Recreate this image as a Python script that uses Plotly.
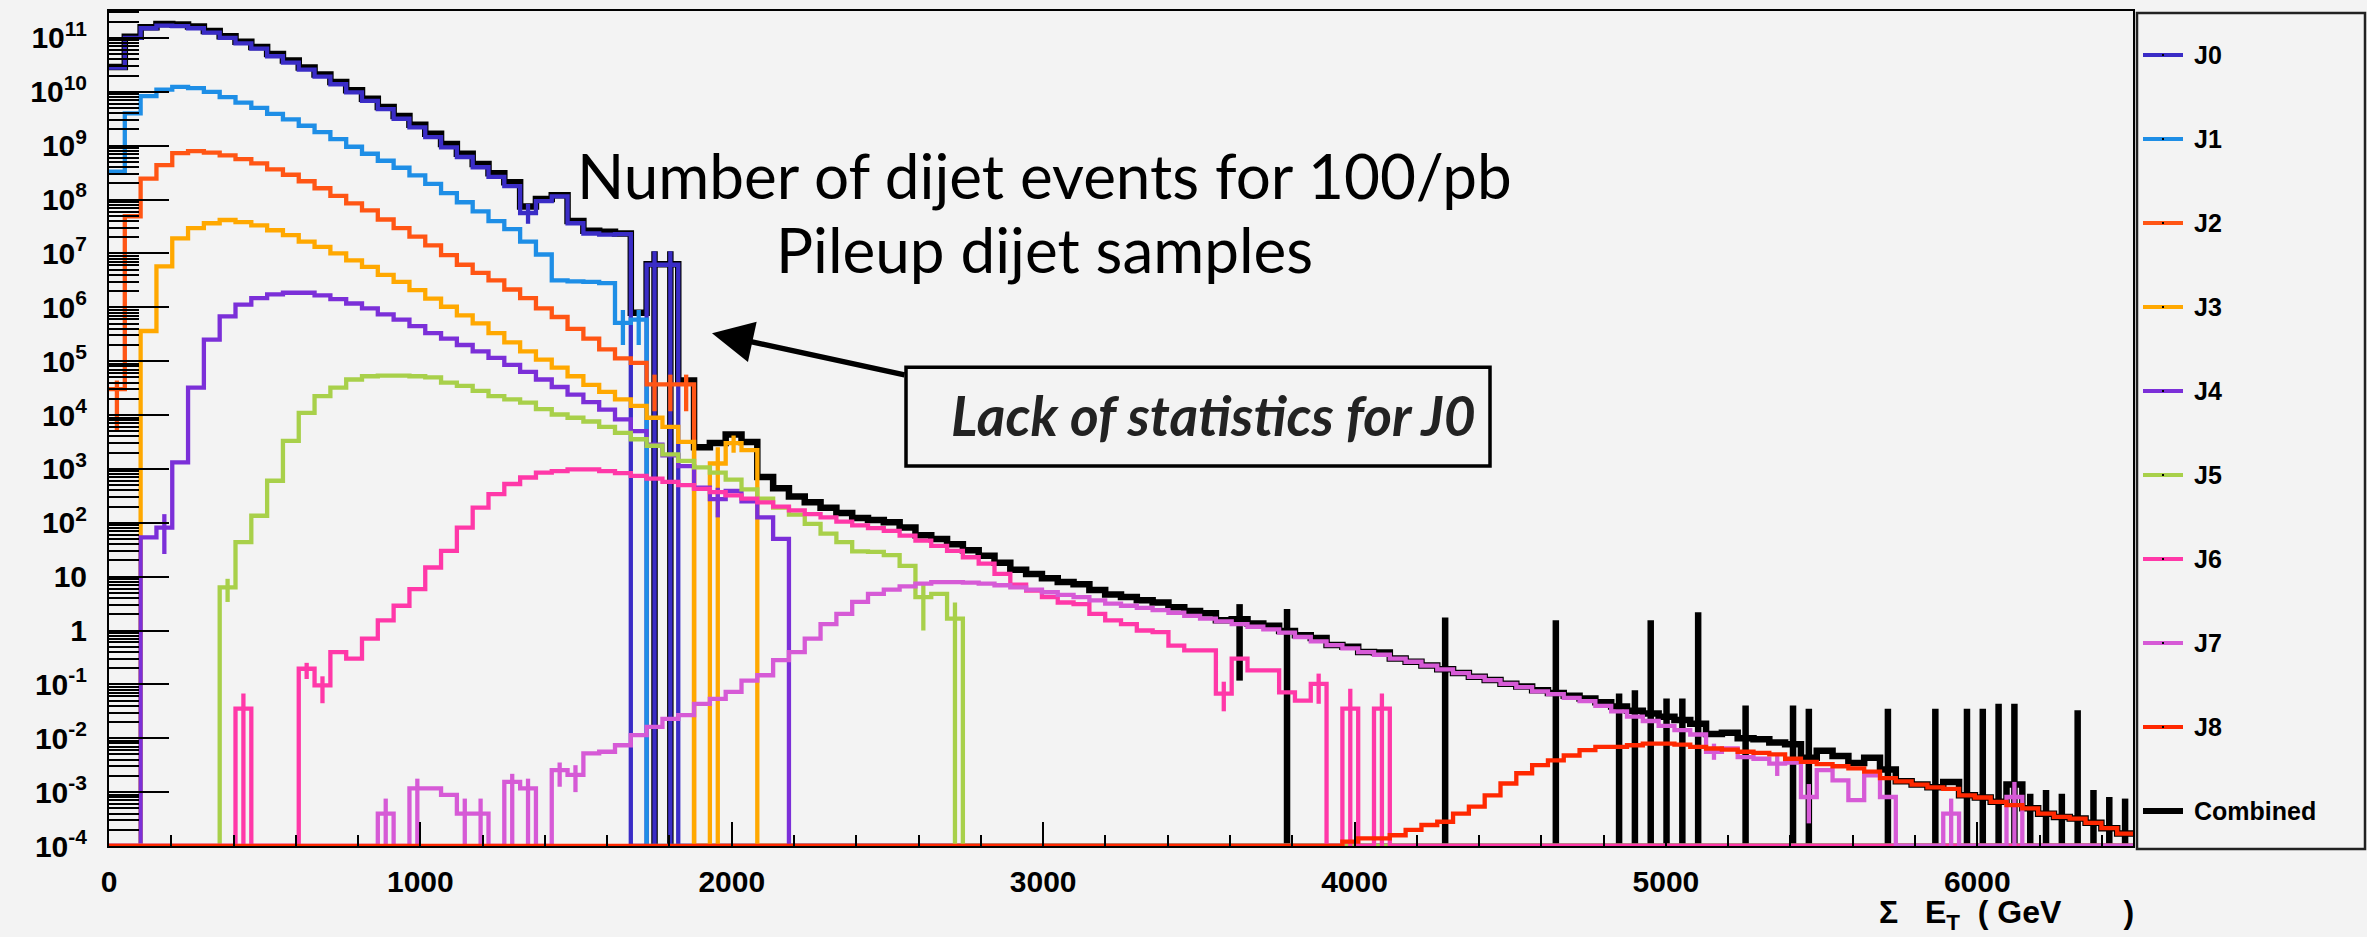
import numpy as np
import plotly.graph_objects as go

# ---------------- binning / axes ----------------
N_BINS = 128
X_MIN, X_MAX = 0.0, 6500.0
LOG_MIN, LOG_MAX = -4.0, 11.5

NAMES = ["J0", "J1", "J2", "J3", "J4", "J5", "J6", "J7", "J8", "Combined"]
COLORS = ["#3a2cc6", "#1e8ee6", "#ff5514", "#ffa800", "#7b2fd8",
          "#a8d04a", "#ff38a8", "#d65ad6", "#ff2800", "#000000"]

Y_TICK_EXP = list(range(-4, 12))
Y_TICK_TEXT = ["10<sup>-4</sup>", "10<sup>-3</sup>", "10<sup>-2</sup>", "10<sup>-1</sup>",
               "1", "10", "10<sup>2</sup>", "10<sup>3</sup>", "10<sup>4</sup>",
               "10<sup>5</sup>", "10<sup>6</sup>", "10<sup>7</sup>", "10<sup>8</sup>",
               "10<sup>9</sup>", "10<sup>10</sup>", "10<sup>11</sup>"]

# ---------------- data: log10(events / bin), None = empty bin ----------------
J0_START = 0
J0 = [10.45, 11.0, 11.18, 11.23, 11.22, 11.18, 11.1, 11.0, 10.9, 10.8,
      10.66, 10.54, 10.41, 10.28, 10.14, 9.99, 9.83, 9.68, 9.5, 9.34,
      9.16, 8.97, 8.79, 8.6, 8.42, 8.25, 7.75, 7.97, 8.06, 7.56,
      7.37, 7.35, 7.36, None, 6.79, 6.79]

J1_START = 0
J1 = [8.52, 9.6, 9.92, 10.04, 10.09, 10.07, 10.0, 9.9, 9.8, 9.7,
      9.59, 9.49, 9.37, 9.25, 9.12, 8.98, 8.85, 8.72, 8.59, 8.45,
      8.29, 8.12, 7.95, 7.78, 7.6, 7.45, 7.22, 6.98, 6.5, 6.48,
      6.47, 6.45, 5.71, 5.77]

J2_START = 0
J2 = [4.48, 7.69, 8.39, 8.64, 8.86, 8.9, 8.87, 8.82, 8.75, 8.67,
      8.56, 8.46, 8.34, 8.21, 8.07, 7.93, 7.8, 7.63, 7.47, 7.31,
      7.15, 6.97, 6.79, 6.64, 6.5, 6.33, 6.17, 5.98, 5.82, 5.6,
      5.42, 5.22, 5.05, 4.97, 4.57, 4.57, 4.57]

J3_START = 2
J3 = [5.56, 6.76, 7.28, 7.47, 7.56, 7.62, 7.58, 7.52, 7.43, 7.34,
      7.22, 7.12, 7.0, 6.87, 6.75, 6.6, 6.47, 6.32, 6.16, 6.01,
      5.85, 5.7, 5.52, 5.35, 5.18, 5.03, 4.88, 4.72, 4.56, 4.43,
      4.29, 4.17, 3.95, 3.78, 3.5, None, 3.1, 3.48, 3.35]

J4_START = 2
J4 = [1.73, 1.91, 3.12, 4.51, 5.4, 5.83, 6.05, 6.17, 6.24, 6.27,
      6.27, 6.22, 6.15, 6.07, 5.98, 5.87, 5.77, 5.65, 5.52, 5.42,
      5.3, 5.18, 5.06, 4.93, 4.8, 4.66, 4.52, 4.38, 4.24, 4.1,
      3.92, 3.7, 3.45, 3.25, 3.05, 2.65, 2.44, 2.59, 2.4, 2.1, 1.7]

J5_START = 7
J5 = [0.8, 1.64, 2.13, 2.78, 3.52, 4.04, 4.35, 4.51, 4.66, 4.72,
      4.73, 4.73, 4.72, 4.7, 4.6, 4.54, 4.45, 4.35, 4.29, 4.23,
      4.11, 4.01, 3.95, 3.88, 3.78, 3.67, 3.55, 3.43, 3.27, 3.15,
      3.03, 2.93, 2.8, 2.62, 2.45, 2.28, 2.15, 1.98, 1.8, 1.64,
      1.47, 1.46, 1.4, 1.2, 0.62, 0.68, 0.22]

J6_START = 8
J6 = [-1.45, None, None, None, -0.71, -1.02, -0.4, -0.52, -0.15, 0.19,
      0.46, 0.77, 1.17, 1.48, 1.91, 2.28, 2.53, 2.72, 2.84, 2.93,
      2.96, 2.99, 2.99, 2.96, 2.92, 2.87, 2.82, 2.76, 2.7, 2.63,
      2.57, 2.51, 2.45, 2.38, 2.3, 2.23, 2.16, 2.1, 2.02, 1.95,
      1.9, 1.85, 1.76, 1.67, 1.57, 1.48, 1.36, 1.24, 1.05, 0.85,
      0.74, 0.62, 0.52, 0.49, 0.31, 0.19, 0.12, 0.0, -0.03, -0.28,
      -0.37, -0.37, -1.17, -0.52, -0.74, -0.74, -1.15, -1.3, -0.99, None,
      -1.45, None, -1.45]

J7_START = 17
J7 = [-3.4, None, -2.93, -2.93, -3.05, -3.4, -3.4, None, -2.81, -2.93,
      None, -2.59, -2.68, -2.28, -2.25, -2.13, -1.94, -1.79, -1.64, -1.57,
      -1.36, -1.27, -1.14, -0.93, -0.83, -0.55, -0.4, -0.15, 0.12, 0.31,
      0.53, 0.68, 0.76, 0.82, 0.87, 0.9, 0.9, 0.89, 0.87, 0.84,
      0.8, 0.76, 0.71, 0.66, 0.62, 0.56, 0.5, 0.46, 0.42, 0.38,
      0.33, 0.27, 0.22, 0.17, 0.12, 0.07, 0.02, -0.04, -0.12, -0.2,
      -0.27, -0.33, -0.4, -0.45, -0.52, -0.58, -0.65, -0.72, -0.79, -0.86,
      -0.92, -0.99, -1.05, -1.13, -1.18, -1.25, -1.31, -1.4, -1.5, -1.6,
      -1.68, -1.77, -1.85, -1.93, -2.25, -2.19, -2.35, -2.38, -2.47, -2.45,
      -3.09, -2.59, -2.78, -3.15, -2.69, -3.09, None, None, None, -3.4,
      None, None, None, -3.09]

J8_START = 78
J8 = [-3.92, -3.86, -3.86, -3.8, -3.7, -3.61, -3.55, -3.4, -3.27, -3.06,
      -2.84, -2.65, -2.5, -2.41, -2.32, -2.22, -2.16, -2.16, -2.13, -2.1,
      -2.1, -2.12, -2.16, -2.19, -2.21, -2.25, -2.27, -2.3, -2.38, -2.44,
      -2.48, -2.52, -2.56, -2.62, -2.74, -2.8, -2.86, -2.91, -2.94, -3.06,
      -3.1, -3.18, -3.24, -3.3, -3.4, -3.46, -3.49, -3.57, -3.67, -3.77]

COMB_START = 0
COMB = [10.46, 11.02, 11.2, 11.26, 11.25, 11.21, 11.13, 11.03, 10.93, 10.83,
        10.7, 10.58, 10.45, 10.32, 10.18, 10.03, 9.87, 9.72, 9.55, 9.39,
        9.22, 9.03, 8.85, 8.66, 8.49, 8.32, 7.87, 8.01, 8.08, 7.6,
        7.42, 7.4, 7.37, 5.9, 6.8, 6.8, 4.64, 3.4, 3.48, 3.64,
        3.5, 2.85, 2.64, 2.49, 2.38, 2.28, 2.18, 2.09, 2.05, 2.01,
        1.91, 1.77, 1.7, 1.6, 1.49, 1.39, 1.26, 1.13, 1.05, 0.97,
        0.9, 0.86, 0.75, 0.67, 0.62, 0.56, 0.52, 0.43, 0.36, 0.32,
        0.19, 0.21, 0.13, 0.09, -0.01, -0.09, -0.14, -0.27, -0.3, -0.4,
        -0.41, -0.52, -0.58, -0.65, -0.72, -0.79, -0.86, -0.92, -0.99, -1.04,
        -1.11, -1.16, -1.21, -1.26, -1.33, -1.41, -1.49, -1.54, -1.6, -1.66,
        -1.73, -1.92, -1.9, -2.0, -2.02, -2.08, -2.11, -2.36, -2.23, -2.33,
        -2.46, -2.36, -2.58, -2.8, -2.86, -2.91, -2.81, -3.06, -3.1, -3.18,
        -2.86, -3.3, -3.4, -3.46, -3.49, -3.57, -3.67, -3.77]

# error bars: (bin index, low log10 or None when reaching zero, high log10)
J0_ERR = [(26, 7.55, 7.92), (34, None, 7.04), (35, None, 7.04)]
J1_ERR = [(32, 5.3, 5.95), (33, 5.3, 5.95)]
J2_ERR = [(0, 3.7, 4.64), (34, 4.07, 4.75), (35, 4.07, 4.75), (36, 4.07, 4.75)]
J3_ERR = [(38, None, 3.4), (39, 3.3, 3.62)]
J4_ERR = [(3, 1.42, 2.16), (38, 2.1, 2.65)]
J5_ERR = [(7, 0.53, 0.96), (51, 0.0, 0.9), (53, None, 0.52)]
J6_ERR = [(8, None, -1.17), (12, -0.9, -0.6), (13, -1.35, -0.85), (70, -1.5, -0.95),
          (76, -1.36, -0.8), (78, None, -1.08), (80, None, -1.17)]
J7_ERR = [(17, None, -3.12), (19, None, -2.75), (22, None, -3.12), (23, None, -3.12),
          (25, None, -2.66), (26, None, -2.75), (28, -2.9, -2.45), (29, -3.0, -2.5),
          (101, -2.4, -2.1), (105, -2.7, -2.3), (107, -3.58, -2.85), (116, None, -3.12),
          (120, None, -2.81)]
J8_ERR = []
COMB_ERR = [(34, None, 7.04), (35, None, 7.04), (71, -0.93, 0.49), (74, None, 0.4),
            (84, None, 0.24), (91, None, 0.19), (95, None, -1.17), (96, None, -1.11),
            (97, None, 0.19), (98, None, -1.26), (99, None, -1.26), (100, None, 0.34),
            (103, None, -1.39), (106, None, -1.39), (107, None, -1.45), (112, None, -1.45),
            (115, None, -1.45), (117, None, -1.45), (118, None, -1.45), (119, None, -1.36),
            (120, None, -1.36), (121, None, -3.03), (122, None, -2.96), (123, None, -3.03),
            (124, None, -1.48), (125, None, -2.96), (126, None, -3.09), (127, None, -3.12)]

TITLE_LINE1 = "Number of dijet events for 100/pb"
TITLE_LINE2 = "Pileup dijet samples"
NOTE_TEXT = "Lack of statistics for J0"
NB = "\u00a0"
X_TITLE = "Σ" + NB * 3 + "E<sub>T</sub>" + NB * 2 + "(" + NB + "GeV" + NB * 7 + ")"

# ---------------- helpers ----------------
BG = "#f3f3f3"
edges = np.linspace(X_MIN, X_MAX, N_BINS + 1)
centers = 0.5 * (edges[:-1] + edges[1:])
FLOOR = 10 ** LOG_MIN


def expand(start, vals):
    arr = [None] * N_BINS
    for i, v in enumerate(vals):
        arr[start + i] = v
    return arr


def step_y(arr):
    y = [10 ** v if v is not None else FLOOR for v in arr]
    return y + [y[-1]]


def err_xy(errs):
    xs, ys = [], []
    for b, lo, hi in errs:
        xs += [centers[b], centers[b], None]
        ys += [10 ** lo if lo is not None else FLOOR, 10 ** hi, None]
    return xs, ys


# plot-area pixel geometry (for layout placement of decorations)
PL, PR, PT, PB = 109, 2133, 9, 846


def px_x(x):
    return (x - PL) / (PR - PL)


def px_y(y):
    return (PB - y) / (PB - PT)


LW = 4.3
SERIES = [
    ("Combined", COMB_START, COMB, COMB_ERR, COLORS[9], 6.5),
    ("J0", J0_START, J0, J0_ERR, COLORS[0], LW),
    ("J1", J1_START, J1, J1_ERR, COLORS[1], LW),
    ("J2", J2_START, J2, J2_ERR, COLORS[2], LW),
    ("J3", J3_START, J3, J3_ERR, COLORS[3], LW),
    ("J4", J4_START, J4, J4_ERR, COLORS[4], LW),
    ("J5", J5_START, J5, J5_ERR, COLORS[5], LW),
    ("J6", J6_START, J6, J6_ERR, COLORS[6], LW),
    ("J7", J7_START, J7, J7_ERR, COLORS[7], LW),
    ("J8", J8_START, J8, J8_ERR, COLORS[8], LW),
]

fig = go.Figure()
for name, start, vals, errs, color, width in SERIES:
    arr = expand(start, vals)
    fig.add_trace(go.Scatter(
        x=edges, y=step_y(arr), mode="lines", name=name,
        line=dict(color=color, width=width, shape="hv"),
        hoverinfo="skip", showlegend=False))
    if errs:
        ex, ey = err_xy(errs)
        fig.add_trace(go.Scatter(
            x=ex, y=ey, mode="lines", line=dict(color=color, width=width),
            hoverinfo="skip", showlegend=False, connectgaps=False))

TICK_FONT = dict(family="Liberation Sans, Arial, sans-serif", size=30, color="black", weight="bold")

fig.update_layout(
    width=2367, height=937, autosize=False,
    margin=dict(l=PL, r=2367 - PR, t=PT, b=937 - PB, pad=0),
    paper_bgcolor=BG, plot_bgcolor=BG,
    showlegend=False,
    xaxis=dict(
        range=[X_MIN, X_MAX], showline=True, mirror=True, linecolor="black", linewidth=2,
        ticks="inside", ticklen=24, tickwidth=2, tickcolor="black",
        tickmode="linear", tick0=0, dtick=1000,
        minor=dict(ticks="inside", ticklen=11, tickwidth=2, tickcolor="black",
                   tickmode="linear", tick0=0, dtick=200, showgrid=False),
        showgrid=False, zeroline=False, tickfont=TICK_FONT, ticklabelstandoff=8),
    yaxis=dict(
        type="log", range=[LOG_MIN, LOG_MAX], showline=True, mirror=True,
        linecolor="black", linewidth=2,
        ticks="inside", ticklen=60, tickwidth=2, tickcolor="black",
        tickmode="array", tickvals=[10.0 ** e for e in Y_TICK_EXP], ticktext=Y_TICK_TEXT,
        minor=dict(ticks="inside", ticklen=30, tickwidth=2, tickcolor="black",
                   dtick="D1", showgrid=False),
        showgrid=False, zeroline=False, tickfont=TICK_FONT, ticklabelstandoff=14),
)

shapes = []
annotations = []

# main text (two lines)
for txt, yc in ((TITLE_LINE1, 173), (TITLE_LINE2, 248)):
    annotations.append(dict(
        x=px_x(1044), y=px_y(yc), xref="paper", yref="paper", text=txt,
        showarrow=False, xanchor="center", yanchor="middle", align="center",
        font=dict(family="Lato, sans-serif", size=62, color="black")))

# boxed note
shapes.append(dict(type="rect", xref="paper", yref="paper",
                   x0=px_x(906), x1=px_x(1490), y0=px_y(465), y1=px_y(366),
                   line=dict(color="black", width=3.5), fillcolor=BG, layer="above"))
annotations.append(dict(
    x=px_x(1213), y=px_y(414), xref="paper", yref="paper", text=f"<i>{NOTE_TEXT}</i>",
    showarrow=False, xanchor="center", yanchor="middle",
    font=dict(family="Lato, sans-serif", size=55, color="#222222", weight="bold")))

# arrow
annotations.append(dict(
    x=px_x(712), y=px_y(332), xref="paper", yref="paper", text="",
    showarrow=True, ax=194, ay=42, arrowhead=2, arrowsize=1.5, arrowwidth=5.5,
    arrowcolor="black", standoff=0))

# x title
annotations.append(dict(
    x=px_x(2136), y=px_y(937), xref="paper", yref="paper", text=X_TITLE,
    showarrow=False, xanchor="right", yanchor="bottom",
    font=dict(family="Liberation Sans, Arial, sans-serif", size=32, color="black", weight="bold")))

# legend box
shapes.append(dict(type="rect", xref="paper", yref="paper",
                   x0=px_x(2137), x1=px_x(2365), y0=px_y(849), y1=px_y(11),
                   line=dict(color="#222222", width=2.5), fillcolor=BG, layer="above"))
for k, (name, color) in enumerate(zip(NAMES, COLORS)):
    yy = 53 + 84.2 * k
    shapes.append(dict(type="line", xref="paper", yref="paper",
                       x0=px_x(2143), x1=px_x(2183), y0=px_y(yy), y1=px_y(yy),
                       line=dict(color=color, width=6 if name == "Combined" else 4),
                       layer="above"))
    shapes.append(dict(type="rect", xref="paper", yref="paper",
                       x0=px_x(2162), x1=px_x(2164), y0=px_y(yy + 1), y1=px_y(yy - 1),
                       line=dict(width=0), fillcolor="black", layer="above"))
    annotations.append(dict(
        x=px_x(2192), y=px_y(yy), xref="paper", yref="paper", text=name,
        showarrow=False, xanchor="left", yanchor="middle",
        font=dict(family="Liberation Sans, Arial, sans-serif", size=25, color="black", weight="bold")))

fig.update_layout(shapes=shapes, annotations=annotations)

fig.write_html("out.html")
